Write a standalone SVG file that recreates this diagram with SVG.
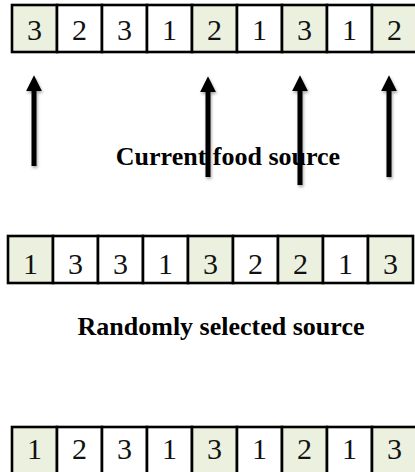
<svg xmlns="http://www.w3.org/2000/svg" width="415" height="472" viewBox="0 0 415 472">
<defs>
<style>
.c{fill:#fff;stroke:#000;stroke-width:2.6}
.g{fill:#EBF1DE;stroke:#000;stroke-width:2.6}
.d{font-family:"Liberation Serif","Times New Roman",serif;font-size:30px;fill:#111;text-anchor:middle}
.lbl{font-family:"Liberation Serif","Times New Roman",serif;font-size:26px;font-weight:bold;fill:#000;text-anchor:middle}
.ar{stroke:#000;stroke-width:5;fill:none;marker-end:url(#ah);filter:url(#sh)}
</style>
<marker id="ah" viewBox="0 0 10 10" refX="2" refY="5" markerWidth="3.2" markerHeight="3.2" orient="auto" markerUnits="strokeWidth">
<path d="M0,0 L10,5 L0,10 z" fill="#000"/>
</marker>
<filter id="sh" filterUnits="userSpaceOnUse" x="0" y="0" width="415" height="472">
<feDropShadow dx="1" dy="2" stdDeviation="1.5" flood-color="#000" flood-opacity="0.35"/>
</filter>
</defs>
<rect width="415" height="472" fill="#fff"/>
<g id="row1">
<rect class="g" x="12" y="5" width="45" height="47"/>
<rect class="c" x="57" y="5" width="45" height="47"/>
<rect class="c" x="102" y="5" width="45" height="47"/>
<rect class="c" x="147" y="5" width="45" height="47"/>
<rect class="g" x="192" y="5" width="45" height="47"/>
<rect class="c" x="237" y="5" width="45" height="47"/>
<rect class="g" x="282" y="5" width="45" height="47"/>
<rect class="c" x="327" y="5" width="45" height="47"/>
<rect class="g" x="372" y="5" width="45" height="47"/>
<text class="d" x="34.5" y="40">3</text>
<text class="d" x="79.5" y="40">2</text>
<text class="d" x="124.5" y="40">3</text>
<text class="d" x="169.5" y="40">1</text>
<text class="d" x="214.5" y="40">2</text>
<text class="d" x="259.5" y="40">1</text>
<text class="d" x="304.5" y="40">3</text>
<text class="d" x="349.5" y="40">1</text>
<text class="d" x="394.5" y="40">2</text>
</g>
<g id="label1"><text class="lbl" x="228" y="165">Current food source</text></g>
<g id="connectors">
<line class="ar" x1="34" y1="166" x2="34" y2="88"/>
<line class="ar" x1="208" y1="177" x2="208" y2="89"/>
<line class="ar" x1="300" y1="185" x2="300" y2="88"/>
<line class="ar" x1="389" y1="177" x2="389" y2="88"/>
</g>
<g id="row2">
<rect class="g" x="8" y="236" width="45" height="47"/>
<rect class="c" x="53" y="236" width="45" height="47"/>
<rect class="c" x="98" y="236" width="45" height="47"/>
<rect class="c" x="143" y="236" width="45" height="47"/>
<rect class="g" x="188" y="236" width="45" height="47"/>
<rect class="c" x="233" y="236" width="45" height="47"/>
<rect class="g" x="278" y="236" width="45" height="47"/>
<rect class="c" x="323" y="236" width="45" height="47"/>
<rect class="g" x="368" y="236" width="45" height="47"/>
<text class="d" x="30.5" y="274">1</text>
<text class="d" x="75.5" y="274">3</text>
<text class="d" x="120.5" y="274">3</text>
<text class="d" x="165.5" y="274">1</text>
<text class="d" x="210.5" y="274">3</text>
<text class="d" x="255.5" y="274">2</text>
<text class="d" x="300.5" y="274">2</text>
<text class="d" x="345.5" y="274">1</text>
<text class="d" x="390.5" y="274">3</text>
</g>
<g id="label2"><text class="lbl" x="221" y="335">Randomly selected source</text></g>
<g id="row3">
<rect class="g" x="12" y="427" width="45" height="47"/>
<rect class="c" x="57" y="427" width="45" height="47"/>
<rect class="c" x="102" y="427" width="45" height="47"/>
<rect class="c" x="147" y="427" width="45" height="47"/>
<rect class="g" x="192" y="427" width="45" height="47"/>
<rect class="c" x="237" y="427" width="45" height="47"/>
<rect class="g" x="282" y="427" width="45" height="47"/>
<rect class="c" x="327" y="427" width="45" height="47"/>
<rect class="g" x="372" y="427" width="45" height="47"/>
<text class="d" x="34.5" y="459">1</text>
<text class="d" x="79.5" y="459">2</text>
<text class="d" x="124.5" y="459">3</text>
<text class="d" x="169.5" y="459">1</text>
<text class="d" x="214.5" y="459">3</text>
<text class="d" x="259.5" y="459">1</text>
<text class="d" x="304.5" y="459">2</text>
<text class="d" x="349.5" y="459">1</text>
<text class="d" x="394.5" y="459">3</text>
</g>
</svg>
